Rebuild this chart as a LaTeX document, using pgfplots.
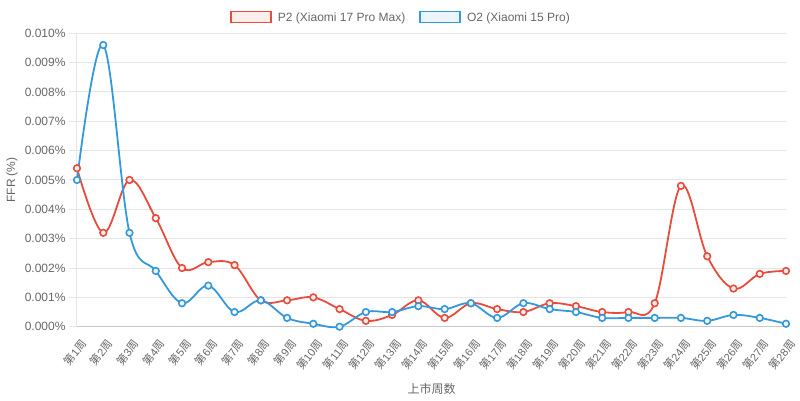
\documentclass[border=0pt]{standalone}
\usepackage{fontspec}
\setmainfont{Liberation Sans}
\newfontfamily\cjk{Noto Sans CJK SC}
\usepackage{pgfplots}
\pgfplotsset{compat=1.18}
\definecolor{cred}{RGB}{231,76,60}
\definecolor{cblue}{RGB}{52,152,219}
\definecolor{tgray}{RGB}{102,102,102}
\definecolor{gridc}{RGB}{229,229,229}
\definecolor{axc}{RGB}{200,200,200}
\newcommand{\w}[1]{{\cjk 第}#1{\cjk 周}}
\begin{document}
\begin{tikzpicture}[x=1pt,y=1pt]
\path[use as bounding box] (-77,-74.3) rectangle (723,326.7);
\begin{axis}[at={(0,0)}, anchor=south west, scale only axis,
  width=709pt, height=293.4pt,
  xmin=1, xmax=28, ymin=0, ymax=0.010,
  clip=false,
  font=\fontsize{12}{14}\selectfont,
  axis lines*=left,
  x axis line style={draw=axc, line width=1pt},
  y axis line style={draw=gridc, line width=1pt},
  xtick={1,...,28},
  xticklabels={\w{1},\w{2},\w{3},\w{4},\w{5},\w{6},\w{7},\w{8},\w{9},\w{10},\w{11},\w{12},\w{13},\w{14},\w{15},\w{16},\w{17},\w{18},\w{19},\w{20},\w{21},\w{22},\w{23},\w{24},\w{25},\w{26},\w{27},\w{28}},
  xtick style={draw=none},
  ytick={0,0.001,0.002,0.003,0.004,0.005,0.006,0.007,0.008,0.009,0.010},
  yticklabels={0.000\%,0.001\%,0.002\%,0.003\%,0.004\%,0.005\%,0.006\%,0.007\%,0.008\%,0.009\%,0.010\%},
  scaled y ticks=false,
  ytick style={draw=gridc, line width=1pt},
  tick align=outside, major tick length=8pt,
  ymajorgrids, major grid style={draw=gridc, line width=1pt},
  yticklabel style={text=tgray, font=\fontsize{12}{14}\selectfont},
  xticklabel style={text=tgray, font=\fontsize{11}{13}\selectfont, rotate=52, anchor=north east, inner sep=1pt, yshift=-3pt},
  xlabel={{\cjk 上市周数}},
  ylabel={FFR (\%)},
  every axis x label/.style={at={(axis description cs:0.5,-0.211)}, anchor=center, text=tgray, font=\fontsize{12}{14}\selectfont},
  every axis y label/.style={at={(axis description cs:-0.0917,0.5)}, rotate=90, anchor=center, text=tgray, font=\fontsize{12}{14}\selectfont},
  legend style={at={(axis description cs:0.4556,1.0556)}, anchor=center, draw=none, fill=none,
    legend columns=2, text=tgray, font=\fontsize{12}{14}\selectfont,
    nodes={inner sep=0pt},
    /tikz/every odd column/.append style={column sep=6pt},
    /tikz/every even column/.append style={column sep=14pt}},
]
\addplot[cred, line width=1.8pt, smooth, tension=0.6, mark=*, mark size=3.3pt,
  mark options={fill=cred!8, draw=cred, line width=1.6pt},
  legend image code/.code={\draw[line width=1.8pt, draw=cred, fill=cred!10] (0pt,-5pt) rectangle (40pt,6pt);}]
coordinates {
(1,0.0054)(2,0.0032)(3,0.0050)(4,0.0037)(5,0.0020)(6,0.0022)(7,0.0021)(8,0.0009)(9,0.0009)(10,0.0010)
(11,0.0006)(12,0.0002)(13,0.0004)(14,0.0009)(15,0.0003)(16,0.0008)(17,0.0006)(18,0.0005)(19,0.0008)(20,0.0007)
(21,0.0005)(22,0.0005)(23,0.0008)(24,0.0048)(25,0.0024)(26,0.0013)(27,0.0018)(28,0.0019)};
\addlegendentry{P2 (Xiaomi 17 Pro Max)}
\addplot[cblue, line width=1.8pt, smooth, tension=0.6, mark=*, mark size=3.3pt,
  mark options={fill=cblue!8, draw=cblue, line width=1.6pt},
  legend image code/.code={\draw[line width=1.8pt, draw=cblue, fill=cblue!10] (0pt,-5pt) rectangle (40pt,6pt);}]
coordinates {
(1,0.0050)(2,0.0096)(3,0.0032)(4,0.0019)(5,0.0008)(6,0.0014)(7,0.0005)(8,0.0009)(9,0.0003)(10,0.0001)
(11,0.0000)(12,0.0005)(13,0.0005)(14,0.0007)(15,0.0006)(16,0.0008)(17,0.0003)(18,0.0008)(19,0.0006)(20,0.0005)
(21,0.0003)(22,0.0003)(23,0.0003)(24,0.0003)(25,0.0002)(26,0.0004)(27,0.0003)(28,0.0001)};
\addlegendentry{O2 (Xiaomi 15 Pro)}
\end{axis}
\end{tikzpicture}
\end{document}
